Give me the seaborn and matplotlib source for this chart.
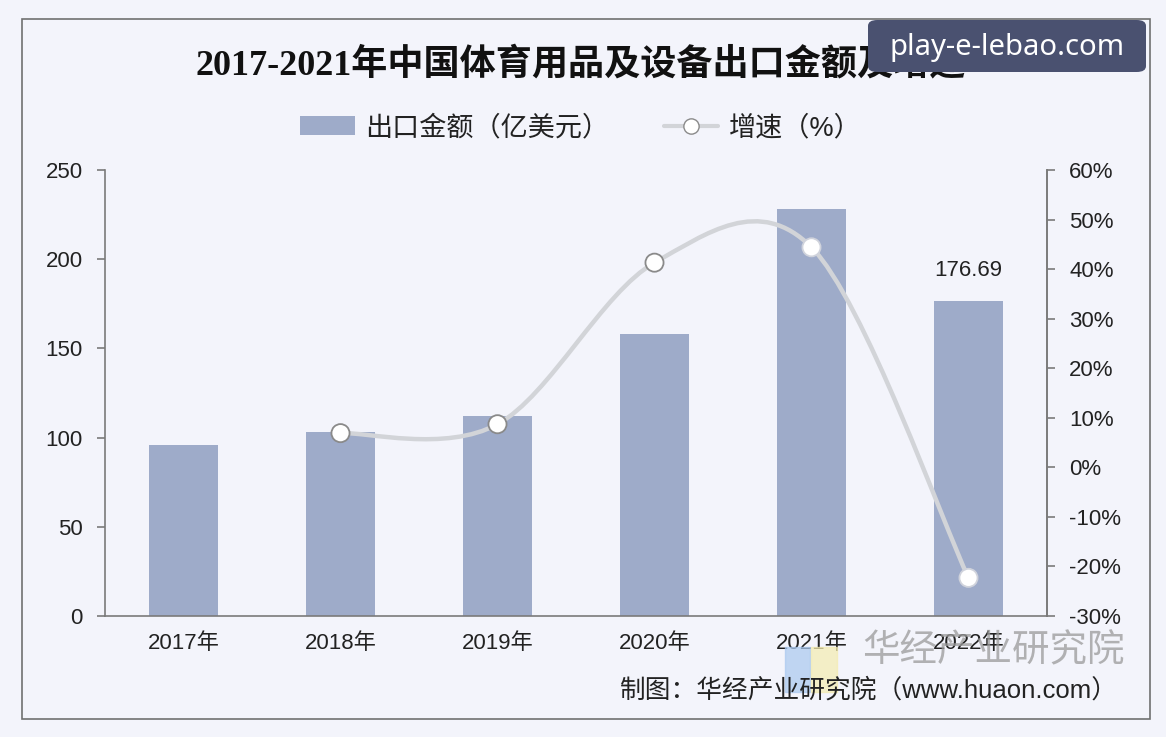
import numpy as np
import pandas as pd
import seaborn as sns
import matplotlib.pyplot as plt
from matplotlib.path import Path
from matplotlib.patches import PathPatch, Rectangle, FancyBboxPatch
from matplotlib.lines import Line2D
from matplotlib.patches import Patch

years = ["2017年", "2018年", "2019年", "2020年", "2021年", "2022年"]
export_value = [95.9, 103.2, 112.1, 158.1, 228.1, 176.69]
growth_years = [1, 2, 3, 4, 5]
growth_pct = [6.9, 8.7, 41.3, 44.4, -22.3]
left_ticks = [0, 50, 100, 150, 200, 250]
right_ticks = [-30, -20, -10, 0, 10, 20, 30, 40, 50, 60]

bar_color = "#9eabc9"
line_color = "#d2d4d8"
axis_color = "#7a7a7a"
bg = "#f3f4fb"

sns.set_style("white")
plt.rcParams["font.family"] = ["Liberation Sans", "Noto Sans CJK SC", "DejaVu Sans"]
cjk = ["Liberation Sans", "Noto Sans CJK SC", "DejaVu Sans"]

df = pd.DataFrame({"year": years, "value": export_value})

fig = plt.figure(figsize=(11.66, 7.37), dpi=100, facecolor=bg)
ax = fig.add_axes([105 / 1166, 1 - 616 / 737, 942 / 1166, 446 / 737])
ax.set_facecolor(bg)

sns.barplot(data=df, x="year", y="value", color=bar_color, width=0.435,
            saturation=1, linewidth=0, ax=ax, zorder=2)
ax.set_xlim(-0.5, 5.5)
ax.set_ylim(0, 250)
ax.set_yticks(left_ticks)
ax.set_xlabel("")
ax.set_ylabel("")
ax.bar_label(ax.containers[0], labels=[""] * 5 + ["176.69"], padding=14,
             fontsize=16, color="#222222")

ax.set_xticks(range(len(years)))
ax.set_xticklabels(years, fontsize=16, family=cjk, color="#222222")
ax.set_xticks(np.arange(-0.5, 6, 1), minor=True)
ax.tick_params(axis="x", which="major", length=0, pad=12)
ax.tick_params(axis="x", which="minor", length=6, color=axis_color, width=1.2)
ax.tick_params(axis="y", length=6, color=axis_color, width=1.2, labelsize=16,
               labelcolor="#222222", pad=10)
for s in ["left", "bottom", "right"]:
    ax.spines[s].set_color(axis_color)
    ax.spines[s].set_linewidth(1.2)
ax.spines["top"].set_visible(False)

ax2 = ax.twinx()
ax2.set_ylim(-30, 60)
ax2.set_yticks(right_ticks)
ax2.set_yticklabels([f"{t}%" for t in right_ticks])
ax2.tick_params(axis="y", length=6, color=axis_color, width=1.2, labelsize=16,
                labelcolor="#222222", pad=10)
for s in ["left", "bottom", "top"]:
    ax2.spines[s].set_visible(False)
ax2.spines["right"].set_color(axis_color)
ax2.spines["right"].set_linewidth(1.2)

# smoothed line (Catmull-Rom style bezier through the points)
pts = np.column_stack([growth_years, growth_pct]).astype(float)
ext = np.vstack([pts[0], pts, pts[-1]])
verts = [tuple(pts[0])]
codes = [Path.MOVETO]
for i in range(1, len(ext) - 2):
    p0, p1, p2, p3 = ext[i - 1], ext[i], ext[i + 1], ext[i + 2]
    c1 = p1 + (p2 - p0) / 6
    c2 = p2 - (p3 - p1) / 6
    verts += [tuple(c1), tuple(c2), tuple(p2)]
    codes += [Path.CURVE4] * 3
ax2.add_patch(PathPatch(Path(verts, codes), facecolor="none", edgecolor=line_color,
                        lw=3.2, zorder=3, capstyle="round"))
sns.scatterplot(x=growth_years, y=growth_pct, ax=ax2, s=170, color="white",
                edgecolor=["#8a8a8a", "#8a8a8a", "#8a8a8a", "#d0d3dc", "#d0d3dc"],
                linewidth=1.3, zorder=4)

# title and legend
fig.text(581 / 1166, 1 - 65 / 737, "2017-2021年中国体育用品及设备出口金额及增速",
         ha="center", va="center", fontsize=26, fontweight="bold",
         family=["Liberation Serif", "Noto Sans CJK SC"], color="#111111")
handles = [Patch(facecolor=bar_color, edgecolor="none"),
           Line2D([], [], color=line_color, lw=3, marker="o", markersize=11,
                  markerfacecolor="white", markeredgecolor="#8a8a8a")]
fig.legend(handles, ["出口金额（亿美元）", "增速（%）"], loc="center",
           bbox_to_anchor=(581 / 1166, 1 - 128 / 737), ncol=2, frameon=False,
           prop={"family": cjk, "size": 19.5}, handlelength=2.0, columnspacing=2.0,
           handletextpad=0.4, labelcolor="#222222")

# source and watermarks
fig.text(1118 / 1166, 1 - 690 / 737, "制图：华经产业研究院（www.huaon.com）",
         ha="right", va="center", fontsize=18.5, family=cjk, color="#222222")
fig.text(1125 / 1166, 1 - 651 / 737, "华经产业研究院", ha="right", va="center",
         fontsize=27, family=cjk, color="#9a9a9a", alpha=0.75)
fig.patches.append(Rectangle((785 / 1166, 1 - 692 / 737), 25 / 1166, 45 / 737,
                             transform=fig.transFigure, color="#a9c8ef", alpha=0.7, zorder=0))
fig.patches.append(Rectangle((811 / 1166, 1 - 692 / 737), 26 / 1166, 45 / 737,
                             transform=fig.transFigure, color="#f4ecb0", alpha=0.7, zorder=0))

# outer frame
fig.patches.append(Rectangle((22 / 1166, 1 - 719 / 737), 1128 / 1166, 700 / 737,
                             transform=fig.transFigure, fill=False,
                             edgecolor="#707070", lw=1.2, zorder=0))

# site badge
fig.patches.append(FancyBboxPatch((868 / 1166, 1 - 72 / 737), 278 / 1166, 52 / 737,
                                  boxstyle="round,pad=0,rounding_size=0.008",
                                  transform=fig.transFigure, facecolor="#4a5170",
                                  edgecolor="none", zorder=5))
fig.text(1007 / 1166, 1 - 47 / 737, "play-e-lebao.com", ha="center", va="center",
         fontsize=21, family="Noto Sans", color="white", zorder=6)

fig.savefig("out.png", dpi=100, facecolor=bg)
